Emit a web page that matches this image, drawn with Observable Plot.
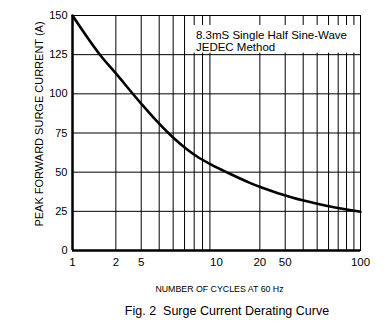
<!DOCTYPE html>
<html>
<head>
<meta charset="utf-8">
<script src="https://cdn.jsdelivr.net/npm/d3@7"></script>
<script src="https://cdn.jsdelivr.net/npm/@observablehq/plot@0.6"></script>
<style>
  html, body { margin: 0; padding: 0; background: #fff; }
  #caption { width: 320px; margin-left: 67px; text-align: center; font-family: "Liberation Sans", Arial, sans-serif; font-size: 12.5px; line-height: 16px; margin-top: 3px; color: #000; }
</style>
</head>
<body>
<div id="chart"></div>
<div id="caption">Fig. 2&nbsp; Surge Current Derating Curve</div>
<script>
const cycles  = [1, 1.565, 1.967, 3.05, 3.91, 4.95, 6.16, 7.23, 9.19, 11.97, 17.2, 20.8, 33.9, 50, 68.1, 100];
const current = [150, 124.5, 113.8, 93.0, 81.9, 72.4, 64.9, 60.3, 54.8, 49.6, 43.0, 40.0, 33.6, 29.8, 27.3, 24.7];

const xTicks = [1, 2, 3, 10, 20, 30, 100];
const xTickLabels = ["1", "2", "5", "10", "20", "50", "100"];
const yTicks = [0, 25, 50, 75, 100, 125, 150];
const xGrid = [2, 3, 4, 5, 6, 7, 8, 9, 20, 30, 40, 50, 60, 70, 80, 90];
const yGrid = [25, 50, 75, 100, 125];

const noteLines = ["8.3mS Single Half Sine-Wave", "JEDEC Method"];
const noteBox = [{x1: 6.6, x2: 100, y1: 126, y2: 143.6}];
const noteAt = {x: 7.2, y: [137.2, 129.6]};

const xLabel = "NUMBER OF CYCLES AT 60 Hz";
const yLabel = "PEAK FORWARD SURGE CURRENT (A)";

const narrow = "'Liberation Sans Narrow', 'Liberation Sans', Arial, sans-serif";
const sans = "'Liberation Sans', Arial, sans-serif";

const data = cycles.map((c, i) => ({c, v: current[i]}));

const chart = Plot.plot({
  width: 387,
  height: 300,
  marginLeft: 72,
  marginRight: 27,
  marginTop: 15,
  marginBottom: 50,
  style: {fontFamily: narrow, background: "#fff", color: "#000"},
  x: {type: "log", domain: [1, 100]},
  y: {domain: [0, 150]},
  marks: [
    Plot.ruleX(xGrid, {stroke: "#000", strokeWidth: 1}),
    Plot.ruleY(yGrid, {stroke: "#000", strokeWidth: 1}),
    Plot.rect(noteBox, {x1: "x1", x2: "x2", y1: "y1", y2: "y2", fill: "#fff"}),
    Plot.text(noteLines, {x: noteAt.x, y: (d, i) => noteAt.y[i], text: d => d, textAnchor: "start", fontSize: 11.5, fontFamily: sans, fill: "#000"}),
    Plot.line(data, {x: "c", y: "v", stroke: "#000", strokeWidth: 2.6, curve: "monotone-x"}),
    Plot.frame({stroke: "#000", strokeWidth: 1}),
    Plot.ruleX([1], {stroke: "#000", strokeWidth: 2.5}),
    Plot.ruleY([0], {stroke: "#000", strokeWidth: 2.5}),
    Plot.axisX({ticks: xTicks, tickFormat: d => xTickLabels[xTicks.indexOf(d)], tickSize: 0, tickPadding: 7, fontSize: 11.5, label: null}),
    Plot.axisY({ticks: yTicks, tickSize: 0, tickPadding: 5, fontSize: 11, label: null}),
    Plot.text([xLabel], {frameAnchor: "bottom", dy: 41, dx: 3, fontSize: 8.8, fontFamily: sans, fill: "#000"}),
    Plot.text([yLabel], {frameAnchor: "left", textAnchor: "middle", rotate: -90, dx: -33, dy: -9, fontSize: 11, fontFamily: sans, fill: "#000"})
  ]
});
document.getElementById("chart").appendChild(chart);
</script>
</body>
</html>
